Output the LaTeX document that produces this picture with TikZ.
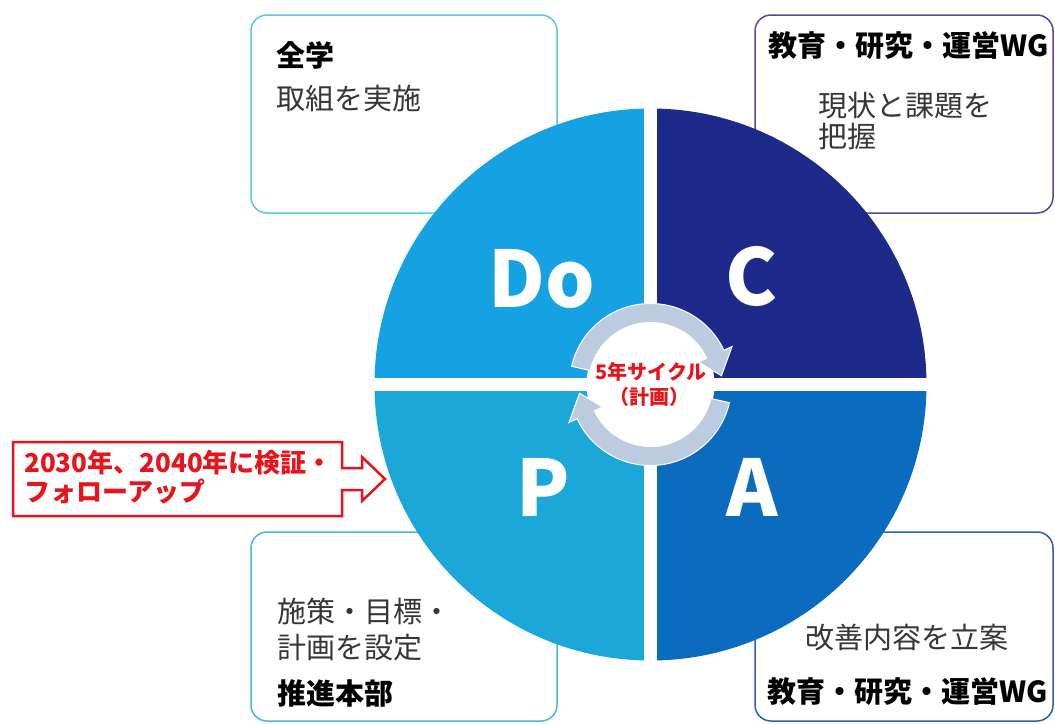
\documentclass[tikz,border=0pt]{standalone}
\usepackage{fontspec}
\setmainfont{Noto Sans CJK JP}
\definecolor{doC}{HTML}{16A2E2}
\definecolor{cC}{HTML}{1D2A8A}
\definecolor{pC}{HTML}{1BA7D7}
\definecolor{aC}{HTML}{0B6BBE}
\definecolor{ringC}{HTML}{BCCBDF}
\definecolor{redC}{HTML}{E8141C}
\definecolor{txtC}{HTML}{363636}
\definecolor{bTL}{HTML}{5CC6EC}
\definecolor{bTR}{HTML}{4E4E9E}
\definecolor{bBL}{HTML}{4CB8D8}
\definecolor{bBR}{HTML}{2A64B0}
\begin{document}
\begin{tikzpicture}[x=1pt,y=-1pt,
  box/.style={line width=1.5pt, fill=white, rounded corners=16pt},
  reg/.style={anchor=west, inner sep=0pt, font=\fontsize{29}{34}\selectfont, text=txtC},
  bld/.style={anchor=west, inner sep=0pt, font=\fontsize{29}{34}\selectfont\bfseries, text=black},
  big/.style={inner sep=0pt, font=\fontsize{78}{84}\selectfont\bfseries, text=white},
  redtxt/.style={inner sep=0pt, font=\fontsize{20}{24}\selectfont\bfseries, text=redC},
  calltxt/.style={anchor=west, inner sep=0pt, font=\fontsize{26}{30}\selectfont\bfseries, text=redC},
  ring/.style={fill=ringC, draw=white, line width=1pt},
]
\useasboundingbox (0,0) rectangle (1055,723);
\clip (0,0) rectangle (1055,723);
\fill[white] (0,0) rectangle (1055,723);
% boxes
\draw[box, draw=bTL] (251,15) rectangle (557,213);
\draw[box, draw=bTR] (755,15) rectangle (1053,213);
\draw[box, draw=bBL] (251,532) rectangle (557,721);
\draw[box, draw=bBR] (755,532) rectangle (1053,721);
% circle
\begin{scope}[shift={(650.5,384.5)}, yscale=-1]
  \fill[doC] (0,0) -- (180:276) arc[start angle=180, end angle=90, radius=276] -- cycle;
  \fill[cC] (0,0) -- (90:276) arc[start angle=90, end angle=0, radius=276] -- cycle;
  \fill[pC] (0,0) -- (270:276) arc[start angle=270, end angle=180, radius=276] -- cycle;
  \fill[aC] (0,0) -- (360:276) arc[start angle=360, end angle=270, radius=276] -- cycle;
  \fill[white] (-6.5,-280) rectangle (6.5,280);
  \fill[white] (-280,-6.5) rectangle (280,6.5);
  \fill[white] (0,0) circle[radius=64];
  \path[ring] (167:81) arc[start angle=167, end angle=25, radius=81] -- (25:90) -- (7:71.5)
     -- (25:53) -- (25:62) arc[start angle=25, end angle=167, radius=62] -- cycle;
  \path[ring] (-13:81) arc[start angle=-13, end angle=-155, radius=81] -- (-155:90) -- (-173:71.5)
     -- (-155:53) -- (-155:62) arc[start angle=-155, end angle=-13, radius=62] -- cycle;
\end{scope}
\node[big] (lDo) at (542,279) {Do};
\node[big] (lC) at (752,276) {C};
\node[big] (lP) at (543,487) {P};
\node[big] (lA) at (752,487) {A};
\node[redtxt] (cyc1) at (651,372) {5年サイクル};
\node[redtxt] (cyc2) at (649,397) {（計画）};
% callout
\draw[redC, line width=2.5pt, fill=white, line join=miter] (13,442) -- (342,442) -- (342,468) -- (362,468) -- (362,457)
  -- (385,479) -- (362,501) -- (362,490) -- (342,490) -- (342,516) -- (13,516) -- cycle;
\node[calltxt] (call1) at (24,463) {2030年、2040年に検証・};
\node[calltxt] (call2) at (24,492) {フォローアップ};
% box texts
\node[bld] (zengaku) at (276,55) {全学};
\node[reg] (torikumi) at (276,98) {取組を実施};
\node[bld] (wg1) at (768,46) {教育・研究・運営WG};
\node[reg] (genjo1) at (818,106) {現状と課題を};
\node[reg] (genjo2) at (818,136) {把握};
\node[reg] (shisaku1) at (277,611) {施策・目標・};
\node[reg] (shisaku2) at (277,648) {計画を設定};
\node[bld] (suishin) at (277,693) {推進本部};
\node[reg] (kaizen) at (805,638) {改善内容を立案};
\node[bld] (wg2) at (767,692) {教育・研究・運営WG};
\end{tikzpicture}
\end{document}
